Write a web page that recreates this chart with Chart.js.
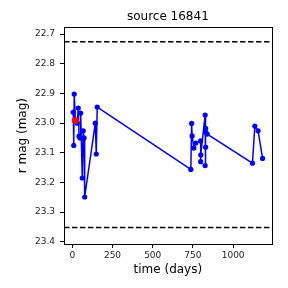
<!DOCTYPE html>
<html>
<head>
<meta charset="utf-8">
<script src="https://cdn.jsdelivr.net/npm/chart.js@4"></script>
<style>
  html, body { margin:0; padding:0; background:#fff; }
  canvas { display:block; }
</style>
</head>
<body>
<canvas id="chart" width="288" height="288"></canvas>
<script>
// light curve, days vs r mag
const days = [6, 9, 12, 19, 31, 37, 42, 48, 52, 62, 68, 73, 77, 143, 149, 155,
  737, 742, 745, 756, 768, 798, 798, 799, 826, 826, 829, 829, 830, 839,
  1120, 1135, 1155, 1183];
const mags = [22.963, 23.075, 22.902, 22.991, 23.000, 22.949, 23.044, 23.050, 22.966, 23.185, 23.026, 23.050, 23.249, 23.000, 23.104, 22.946,
  23.156, 23.001, 23.043, 23.084, 23.067, 23.060, 23.130, 23.107, 22.973, 23.143, 23.018, 23.081, 23.031, 23.037,
  23.135, 23.010, 23.026, 23.119];

const markDay = [19];
const markMag = [22.991];

const limitDays = [-51.6, 1239.8];
const upperLimit = [22.726, 22.726];
const lowerLimit = [23.352, 23.352];

const xTicks = [0, 250, 500, 750, 1000];
const yTicks = [22.7, 22.8, 22.9, 23.0, 23.1, 23.2, 23.3, 23.4];

const titleText = 'source 16841';

const pts = (xs, ys) => xs.map((x, i) => ({x, y: ys[i]}));

const tickFont = {family: "'DejaVu Sans', sans-serif", size: 9};
const labelFont = {family: "'DejaVu Sans', sans-serif", size: 12};

// axes box + title centred over the axes, like matplotlib
const frame = {
  id: 'frame',
  afterDraw(chart){
    const {ctx, chartArea: a} = chart;
    ctx.save();
    ctx.strokeStyle = '#000';
    ctx.lineWidth = 1;
    ctx.strokeRect(Math.round(a.left) + 0.5, Math.round(a.top) + 0.5,
      Math.round(a.right - a.left), Math.round(a.bottom - a.top));
    ctx.fillStyle = '#000';
    ctx.font = `${labelFont.size}px ${labelFont.family}`;
    ctx.textAlign = 'center';
    ctx.textBaseline = 'middle';
    ctx.fillText(titleText, (a.left + a.right) / 2, 17.3);
    ctx.restore();
  }
};

new Chart(document.getElementById('chart'), {
  type: 'line',
  data: {
    datasets: [
      { data: pts(markDay, markMag), showLine: false, pointRadius: 3.5, pointBorderWidth: 0,
        pointBackgroundColor: '#ff0000', borderColor: '#ff0000' },
      { data: pts(days, mags), borderColor: '#0000ff', borderWidth: 1.5, pointRadius: 2.6,
        pointBorderWidth: 0, pointBackgroundColor: '#0000ff', tension: 0 },
      { data: pts(limitDays, upperLimit), borderColor: '#000', borderWidth: 1.5,
        borderDash: [5.5, 2.5], pointRadius: 0 },
      { data: pts(limitDays, lowerLimit), borderColor: '#000', borderWidth: 1.5,
        borderDash: [5.5, 2.5], pointRadius: 0 }
    ]
  },
  options: {
    responsive: false,
    animation: false,
    events: [],
    layout: { padding: { left: 0, right: 16.3, top: 27.3, bottom: 0 } },
    plugins: {
      legend: { display: false },
      tooltip: { enabled: false },
      title: { display: false }
    },
    scales: {
      x: {
        type: 'linear', min: limitDays[0], max: limitDays[1],
        afterBuildTicks: s => { s.ticks = xTicks.map(v => ({value: v})); },
        afterFit: s => { s.height = 44; },
        border: { display: false },
        grid: { drawOnChartArea: false, drawTicks: true, tickLength: 4, color: '#000' },
        ticks: { color: '#222', font: tickFont, padding: 2, maxRotation: 0, callback: v => String(v) },
        title: { display: true, text: 'time (days)', color: '#000', font: labelFont, padding: { top: 0, bottom: 10.8 } }
      },
      y: {
        type: 'linear', reverse: true, min: 22.677, max: 23.4074,
        afterBuildTicks: s => { s.ticks = yTicks.map(v => ({value: v})); },
        afterFit: s => { s.width = 64; },
        border: { display: false },
        grid: { drawOnChartArea: false, drawTicks: true, tickLength: 4, color: '#000' },
        ticks: { color: '#222', font: tickFont, padding: 5, callback: v => Number(v).toFixed(1) },
        title: { display: true, text: 'r mag (mag)', color: '#000', font: labelFont, padding: { top: 16.1, bottom: 0 } }
      }
    }
  },
  plugins: [frame]
});
</script>
</body>
</html>
